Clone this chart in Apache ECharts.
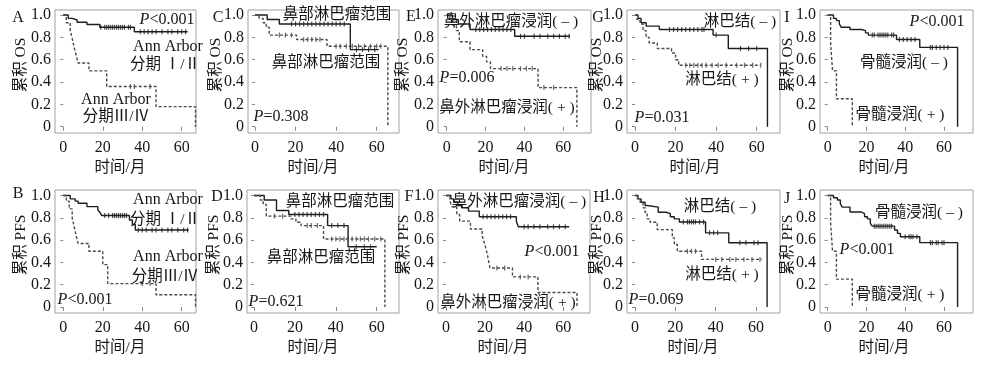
<!DOCTYPE html>
<html><head><meta charset="utf-8">
<script src="https://cdn.jsdelivr.net/npm/echarts@6/dist/echarts.min.js"></script>
<style>html,body{margin:0;padding:0;background:#fff}#c{width:998px;height:366px}</style>
</head><body><div id="c"></div>
<script>
// ---------- tick labels ----------
const xTicks = [0, 20, 40, 60];
const yTicks = [0, 0.2, 0.4, 0.6, 0.8, 1.0];

// ---------- Kaplan-Meier curves: [month, cumulative survival] change points ----------
// A: OS by Ann Arbor stage
const A_stage12 = [[0,1],[2.5,0.97],[4.5,0.955],[7,0.935],[12,0.915],[18.5,0.89],[36,0.85],[63,0.85]];
const A_stage12_cens = [19,21,22,23,24,25,26,27,28,29,30,31,33,34,39,41,43,45,47,50,53,55,58,60,62];
const A_stage34 = [[0,1],[1.5,0.93],[3.5,0.86],[4.5,0.79],[5.5,0.71],[6.5,0.64],[7.5,0.57],[13,0.5],[22,0.36],[47,0.18],[67,0]];
const A_stage34_cens = [34,36,44];
// B: PFS by Ann Arbor stage
const B_stage12 = [[0,1],[3.5,0.97],[6,0.95],[7.5,0.93],[12,0.90],[17.5,0.87],[18.5,0.85],[19.5,0.82],[33.5,0.78],[35,0.74],[36.5,0.69],[63.5,0.69]];
const B_stage12_cens = [21,23,25,26,27,28,29,30,31,32,38,40,42,45,47,50,53,55,58,61,63];
const B_stage34 = [[0,1],[1.5,0.95],[3,0.88],[4.5,0.80],[5.5,0.72],[6.5,0.64],[7.5,0.57],[13,0.5],[20,0.38],[22.5,0.21],[47,0.11],[67,0]];
const B_stage34_cens = [40,44];
// C: OS by nasal lymphoma extent
const C_solid = [[0,1],[6,0.96],[12,0.92],[47,0.69],[61,0.69]];
const C_solid_cens = [18,20,22,24,26,28,30,32,34,36,38,40,42,44,50,53,56,59];
const C_dash = [[0,1],[2,0.97],[4,0.93],[5.5,0.89],[7,0.82],[20.5,0.78],[35.5,0.72],[65.5,0]];
const C_dash_cens = [12,15,18,24,26,28,30,32,40,42,45,48,51,54,57,60,62];
// D: PFS by nasal lymphoma extent
const D_solid = [[0,1],[5,0.96],[11,0.866],[17,0.83],[36,0.73],[46,0.54],[60,0.54]];
const D_solid_cens = [20,22,24,26,28,30,32,34,38,41,44,50,54,57];
const D_dash = [[0,1],[3,0.96],[4.5,0.92],[6,0.815],[18,0.79],[20.5,0.76],[23,0.73],[34,0.61],[64,0]];
const D_dash_cens = [10,14,26,28,31,38,40,42,44,46,48,50,52,54,56,59,62];
// E: OS by extranasal infiltration
const E_neg = [[0,1],[3,0.96],[6,0.92],[12,0.87],[35,0.81],[63.5,0.81]];
const E_neg_cens = [15,17,19,21,23,25,27,29,31,33,38,40,45,48,52,55,58,61,63];
const E_pos = [[0,1],[1.5,0.95],[3,0.91],[5,0.86],[6.5,0.76],[12,0.69],[18.5,0.63],[20.5,0.58],[22.5,0.52],[47,0.35],[67,0]];
const E_pos_cens = [28,31,34,38,41,44,50,55];
// F: PFS by extranasal infiltration
const F_neg = [[0,1],[2.5,0.97],[4,0.94],[6,0.91],[8,0.89],[11.5,0.86],[17,0.81],[36,0.77],[37,0.72],[63,0.72]];
const F_neg_cens = [19,21,23,25,27,29,31,33,40,42,45,48,52,55,58,61];
const F_pos = [[0,1],[2,0.95],[3,0.90],[5.5,0.83],[7,0.77],[12.5,0.70],[18.5,0.64],[19.5,0.58],[20.5,0.52],[21.5,0.44],[22.5,0.35],[34,0.27],[47,0.13],[67,0]];
const F_pos_cens = [26,30,38,42];
// G: OS by lymph node
const G_neg = [[0,1],[1.5,0.97],[3,0.93],[5.5,0.90],[12,0.87],[38.5,0.82],[46,0.70],[65.3,0]];
const G_neg_cens = [17,19,21,23,25,27,29,31,33,34,40,52,56,60];
const G_pos = [[0,1],[1,0.96],[2.5,0.92],[4,0.86],[5.5,0.80],[7,0.75],[11,0.70],[18,0.66],[20,0.60],[21.5,0.55],[62,0.55]];
const G_pos_cens = [25,27,29,31,33,35,38,41,45,50,54,58,62];
// H: PFS by lymph node
const H_neg = [[0,1],[1.5,0.97],[3,0.94],[5,0.91],[6,0.896],[11.5,0.85],[15.5,0.837],[17.5,0.81],[19.5,0.79],[22,0.763],[35,0.665],[46.5,0.576],[65.5,0]];
const H_neg_cens = [24,26,27,28,29,30,32,34,37,39,41,52,55,59,61];
const H_pos = [[0,1],[1,0.97],[2.5,0.94],[4,0.89],[5,0.85],[6,0.79],[7.5,0.76],[11,0.694],[18.5,0.62],[19.5,0.56],[21,0.50],[33,0.427],[63,0.427]];
const H_pos_cens = [26,28,30,40,43,47,50,54,58,62];
// I: OS by bone marrow infiltration
const I_neg = [[0,1],[3,0.97],[4.5,0.95],[6,0.92],[7,0.89],[11.5,0.87],[17.5,0.86],[19.5,0.84],[21,0.82],[35.5,0.78],[47.5,0.71],[67,0]];
const I_neg_cens = [23,24,26,27,28,29,30,31,33,34,37,39,41,43,45,53,54,56,58,60,62];
const I_pos = [[0,1],[1.5,0.75],[2.5,0.5],[4.5,0.25],[12.7,0]];
const I_pos_cens = [];
// J: PFS by bone marrow infiltration
const J_neg = [[0,1],[3,0.98],[5,0.96],[6.5,0.926],[7.5,0.896],[11.5,0.852],[17.5,0.837],[19,0.81],[20.5,0.79],[22,0.75],[23,0.725],[34.5,0.69],[36,0.66],[37.5,0.63],[47.5,0.577],[67,0]];
const J_neg_cens = [24,25,26,27,28,29,30,31,32,33,40,42,43,44,46,53,54,56,57,59,60];
const J_pos = [[0,1],[1.5,0.75],[2.5,0.5],[4.5,0.25],[12.7,0]];
const J_pos_cens = [];

// ---------- panel layout (pixels) ----------
const R1 = [15, 126.7], R2 = [195.5, 307];
const panels = [
  {id:'A', box:[55,10,196,133],  x:[63.3,181.7], y:R1, s:A_stage12, sc:A_stage12_cens, d:A_stage34, dc:A_stage34_cens},
  {id:'C', box:[248,10,399,133], x:[255,376.7],  y:R1, s:C_solid, sc:C_solid_cens, d:C_dash, dc:C_dash_cens},
  {id:'E', box:[438,10,591,133], x:[446.7,563.3],y:R1, s:E_neg, sc:E_neg_cens, d:E_pos, dc:E_pos_cens},
  {id:'G', box:[627,10,780,133], x:[635,756.7],  y:R1, s:G_neg, sc:G_neg_cens, d:G_pos, dc:G_pos_cens},
  {id:'I', box:[820,10,973,133], x:[827.7,944],  y:R1, s:I_neg, sc:I_neg_cens, d:I_pos, dc:I_pos_cens},
  {id:'B', box:[55,190,196,313], x:[63.3,181.7], y:R2, s:B_stage12, sc:B_stage12_cens, d:B_stage34, dc:B_stage34_cens},
  {id:'D', box:[247,190,399,313],x:[254,376.7],  y:R2, s:D_solid, sc:D_solid_cens, d:D_dash, dc:D_dash_cens},
  {id:'F', box:[438,190,590,313],x:[446,563.3],  y:R2, s:F_neg, sc:F_neg_cens, d:F_pos, dc:F_pos_cens},
  {id:'H', box:[627,190,780,313],x:[635,756],    y:R2, s:H_neg, sc:H_neg_cens, d:H_pos, dc:H_pos_cens},
  {id:'J', box:[820,190,973,313],x:[827.7,944],  y:R2, s:J_neg, sc:J_neg_cens, d:J_pos, dc:J_pos_cens}
];

const SERIF = 'Liberation Serif, "Times New Roman", "Noto Sans CJK SC", serif';
const CJK = '"Liberation Serif", "Noto Sans CJK SC", sans-serif';
const TXT = '#161616';

function survAt(curve, t){ let v = curve[0][1]; for (const p of curve){ if (p[0] <= t) v = p[1]; else break; } return v; }

const grid=[], xAxis=[], yAxis=[], series=[];
panels.forEach((p,i)=>{
  const [L,T,R,B] = p.box;
  grid.push({left:L, top:T, width:R-L, height:B-T, show:true, borderColor:'#a0a0a0', borderWidth:1, containLabel:false, outerBoundsMode:'none'});
  const ppx = (p.x[1]-p.x[0])/60;
  const ppy = (p.y[1]-p.y[0]);
  xAxis.push({gridIndex:i, type:'value', min:(L-p.x[0])/ppx, max:(R-p.x[0])/ppx,
    axisLine:{show:false}, splitLine:{show:false},
    axisTick:{show:true, customValues:xTicks, length:4, lineStyle:{color:'#888'}},
    axisLabel:{customValues:xTicks, margin:7, fontFamily:SERIF, fontSize:16, color:TXT}});
  yAxis.push({gridIndex:i, type:'value', min:(p.y[1]-B)/ppy, max:(p.y[1]-T)/ppy,
    axisLine:{show:false}, splitLine:{show:false},
    axisTick:{show:true, customValues:yTicks, length:3, lineStyle:{color:'#888'}},
    axisLabel:{customValues:yTicks, margin:4, fontFamily:SERIF, fontSize:16, color:TXT,
      formatter:v=> (Math.abs(v)<1e-9 ? '0' : v.toFixed(1))}});
  const mk = (curve, cens, dashed)=>{
    const col = dashed ? '#4a4a4a' : '#1e1e1e';
    series.push({type:'line', xAxisIndex:i, yAxisIndex:i, data:curve, step:'end', showSymbol:false, symbol:'none',
      silent:true, animation:false, lineStyle:{color:col, width:1.4, type: dashed ? [3,2] : 'solid'}});
    series.push({type:'scatter', xAxisIndex:i, yAxisIndex:i, silent:true, animation:false,
      data:cens.map(t=>[t, survAt(curve,t)]), symbol:'rect', symbolSize:[1.2,5], itemStyle:{color:col}});
  };
  mk(p.s, p.sc, false);
  mk(p.d, p.dc, true);
});

// ---------- text annotations ----------
function txt(x, y, text, size, opts){
  opts = opts || {};
  return {type:'text', x:x, y:y, rotation:opts.rot||0, silent:true, z:100,
    style:{text:text, fontFamily:opts.font||CJK, fontSize:size||15, fill:TXT,
      align:'center', verticalAlign:'middle', textAlign:'center', textVerticalAlign:'middle',
      rich:{i:{fontStyle:'italic', fontFamily:SERIF, fontSize:size||15, fill:TXT}}}};
}
const g = [];
// panel letters
[['A',18,18],['C',218,18],['E',411,17],['G',598,18],['I',787,18],
 ['B',18,194],['D',217,197],['F',409,197],['H',599,198],['J',787,199]].forEach(a=>g.push(txt(a[1],a[2],a[0],16,{font:SERIF})));
// y axis names
[[21,65,'累积 OS'],[216,65,'累积 OS'],[403,65,'累积 OS'],[597,65,'累积 OS'],[788,65,'累积 OS'],
 [21,245,'累积 PFS'],[214,245,'累积 PFS'],[404,245,'累积 PFS'],[597,245,'累积 PFS'],[788,245,'累积 PFS']]
 .forEach(a=>g.push(txt(a[0],a[1],a[2],15.5,{rot:Math.PI/2})));
// x axis names
[[120,168],[313,168],[504,168],[695,168],[884,168],[120,348],[313,348],[503,348],[693,348],[884,348]]
 .forEach(a=>g.push(txt(a[0],a[1],'时间/月',15.5)));
// in-plot labels
const NEG = '( – )', POS = '( + )';
const notes = [
  [167,20,'{i|P}<0.001',16],[168,47,'Ann Arbor',16],[165,65,'分期 Ⅰ/Ⅱ',15.5],[116,100,'Ann Arbor',16],[116,117,'分期Ⅲ/Ⅳ',15.5],
  [168,200,'Ann Arbor',16],[165,220,'分期 Ⅰ/Ⅱ',15.5],[168,257,'Ann Arbor',16],[165,277,'分期Ⅲ/Ⅳ',15.5],[85,300,'{i|P}<0.001',16],
  [337,15,'鼻部淋巴瘤范围',15.5],[326,63,'鼻部淋巴瘤范围',15.5],[281,117,'{i|P}=0.308',16],
  [340,202,'鼻部淋巴瘤范围',15.5],[321,258,'鼻部淋巴瘤范围',15.5],[276,302,'{i|P}=0.621',16],
  [511,22,'鼻外淋巴瘤浸润'+NEG,15.5],[467,78,'{i|P}=0.006',16],[507,108,'鼻外淋巴瘤浸润'+POS,15.5],
  [519,202,'鼻外淋巴瘤浸润'+NEG,15.5],[552,252,'{i|P}<0.001',16],[508,303,'鼻外淋巴瘤浸润'+POS,15.5],
  [740,22,'淋巴结'+NEG,15.5],[722,80,'淋巴结'+POS,15.5],[662,118,'{i|P}=0.031',16],
  [720,207,'淋巴结'+NEG,15.5],[722,275,'淋巴结'+POS,15.5],[656,300,'{i|P}=0.069',16],
  [937,22,'{i|P}<0.001',16],[904,63,'骨髓浸润'+NEG,15.5],[900,115,'骨髓浸润'+POS,15.5],
  [919,213,'骨髓浸润'+NEG,15.5],[867,250,'{i|P}<0.001',16],[900,295,'骨髓浸润'+POS,15.5]
];
notes.forEach(a=>g.push(txt(a[0],a[1],a[2],a[3])));

const chart = echarts.init(document.getElementById('c'), null, {renderer:'canvas'});
chart.setOption({animation:false, backgroundColor:'#fff', grid, xAxis, yAxis, series, graphic:g});
</script></body></html>
